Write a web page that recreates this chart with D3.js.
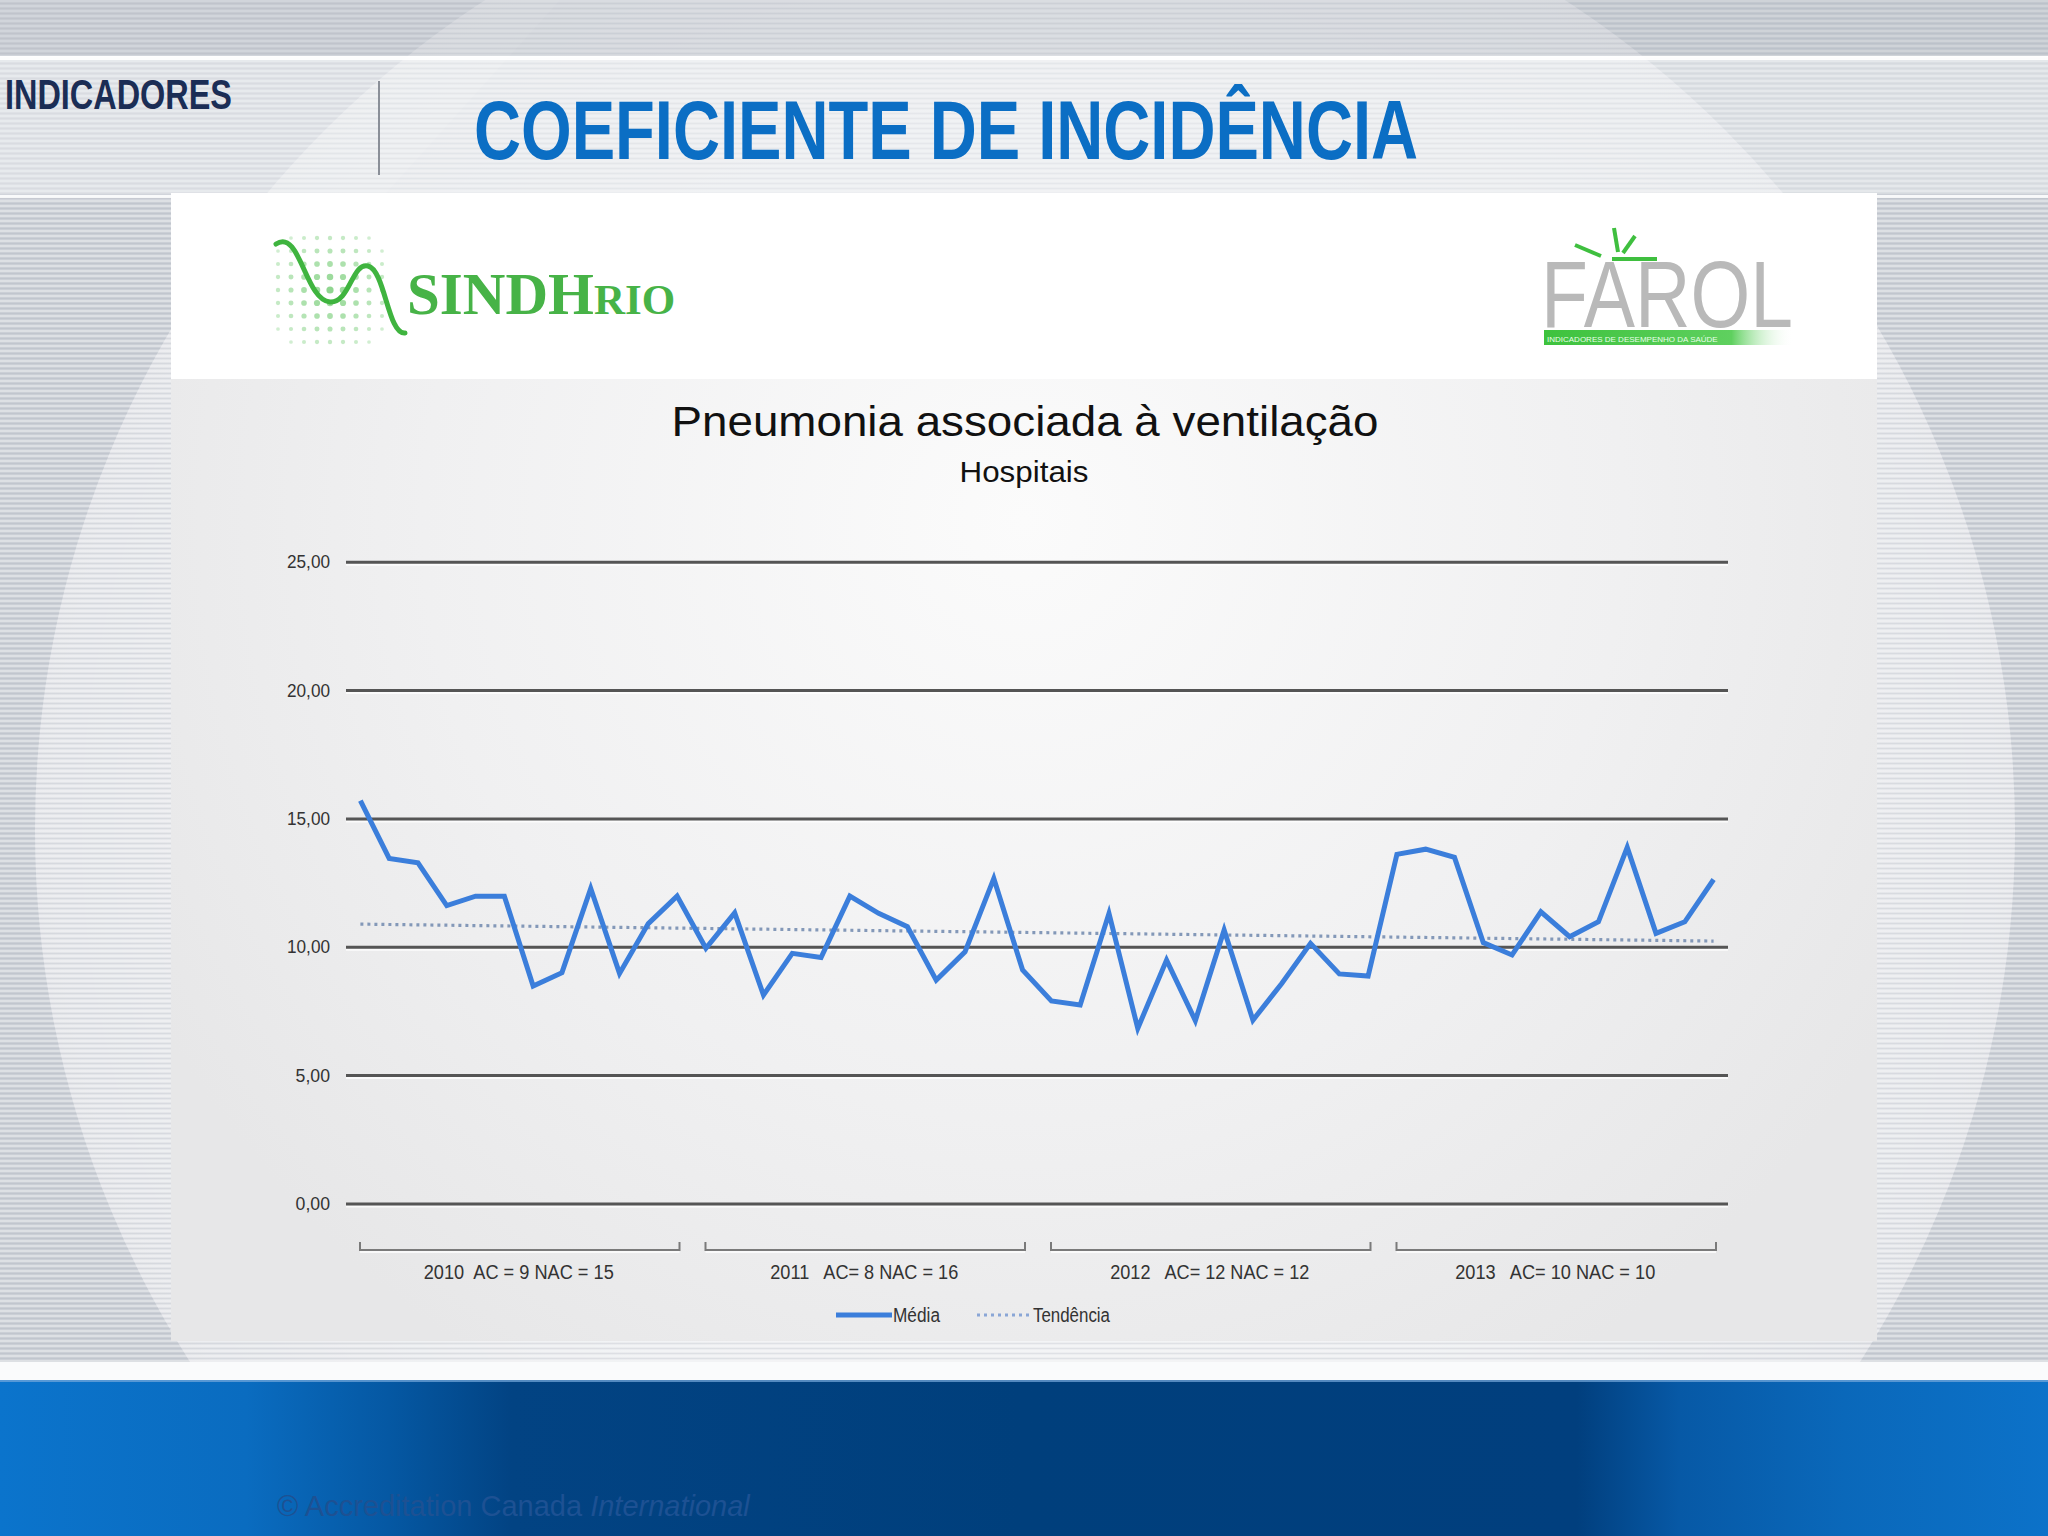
<!DOCTYPE html>
<html><head><meta charset="utf-8">
<script src="https://cdn.jsdelivr.net/npm/d3@7"></script>
<style>html,body{margin:0;padding:0;background:#d3d6dc;overflow:hidden} svg{display:block}</style>
</head><body>
<svg id="c" width="2048" height="1536"></svg>
<script>
// ---------------- DATA ----------------
const years = ["2010", "2011", "2012", "2013"];
const monthNames = ["jan", "fev", "mar", "abr", "mai", "jun", "jul", "ago", "set", "out", "nov", "dez"];
const groupLabels = ["2010  AC = 9 NAC = 15", "2011   AC= 8 NAC = 16", "2012   AC= 12 NAC = 12", "2013   AC= 10 NAC = 10"];
const media = [
  15.69, 13.44, 13.27, 11.60, 11.97, 11.97, 8.47, 8.99, 12.27, 8.96, 10.90, 11.97,
  9.94, 11.32, 8.12, 9.74, 9.58, 11.97, 11.30, 10.78, 8.70, 9.80, 12.66, 9.09,
  7.89, 7.73, 11.30, 6.82, 9.48, 7.12, 10.65, 7.14, 8.57, 10.13, 8.94, 8.86,
  13.60, 13.80, 13.48, 10.16, 9.68, 11.36, 10.39, 10.97, 13.87, 10.52, 10.97, 12.62
];
const trendEnds = [10.88, 10.22];
const yTicks = [0, 5, 10, 15, 20, 25];
const chartTitle = "Pneumonia associada à ventilação";
const chartSubtitle = "Hospitais";
const legendLabels = ["Média", "Tendência"];
const slideSection = "INDICADORES";
const slideTitle = "COEFICIENTE DE INCIDÊNCIA";

const categories = years.flatMap(y => monthNames.map(m => m + "/" + y));

// ---------------- SETUP ----------------
const svg = d3.select("#c");
const W = 2048, H = 1536;
const narrow = "'Liberation Sans Narrow', 'Arial Narrow', 'Liberation Sans', Arial, sans-serif";
const defs = svg.append("defs");

const stripes = defs.append("pattern").attr("id", "stripes").attr("patternUnits", "userSpaceOnUse")
  .attr("width", 8).attr("height", 5);
stripes.append("rect").attr("width", 8).attr("height", 2).attr("fill", "rgba(255,255,255,0.35)");
stripes.append("rect").attr("y", 3).attr("width", 8).attr("height", 1).attr("fill", "rgba(120,130,145,0.12)");

const rg = defs.append("radialGradient").attr("id", "glow").attr("cx", "50%").attr("cy", "50%").attr("r", "50%");
rg.append("stop").attr("offset", "0%").attr("stop-color", "#ffffff").attr("stop-opacity", 0.7);
rg.append("stop").attr("offset", "70%").attr("stop-color", "#ffffff").attr("stop-opacity", 0.3);
rg.append("stop").attr("offset", "100%").attr("stop-color", "#ffffff").attr("stop-opacity", 0.05);

const footG = defs.append("linearGradient").attr("id", "foot").attr("x1", "0").attr("x2", "1").attr("y1", "0").attr("y2", "0");
[[0, "#0b74cc"], [0.12, "#0a6cc0"], [0.19, "#0558a3"], [0.25, "#024383"], [0.5, "#003f7c"], [0.77, "#013f7e"], [0.82, "#0759a6"], [0.9, "#0a68ba"], [1, "#0c72c9"]]
  .forEach(([o, c]) => footG.append("stop").attr("offset", o).attr("stop-color", c));

const panelG = defs.append("radialGradient").attr("id", "panelg").attr("gradientUnits", "userSpaceOnUse")
  .attr("cx", 1024).attr("cy", 520).attr("r", 1000);
panelG.append("stop").attr("offset", "0%").attr("stop-color", "#fbfbfb");
panelG.append("stop").attr("offset", "60%").attr("stop-color", "#f0f0f1");
panelG.append("stop").attr("offset", "100%").attr("stop-color", "#e7e7e8");

const barG = defs.append("linearGradient").attr("id", "greenbar").attr("x1", "0").attr("x2", "1");
barG.append("stop").attr("offset", "0%").attr("stop-color", "#3dc23d");
barG.append("stop").attr("offset", "75%").attr("stop-color", "#5fd05f");
barG.append("stop").attr("offset", "100%").attr("stop-color", "#ffffff").attr("stop-opacity", 0);

// ---------------- BACKGROUND ----------------
svg.append("rect").attr("width", W).attr("height", H).attr("fill", "#cbcfd6");
svg.append("circle").attr("cx", 1025).attr("cy", 830).attr("r", 990).attr("fill", "#e1e3e7");
svg.append("circle").attr("cx", 1025).attr("cy", 830).attr("r", 990).attr("fill", "url(#glow)");
svg.append("polygon").attr("points", "0,0 560,0 380,200 0,200").attr("fill", "rgba(255,255,255,0.12)");
svg.append("rect").attr("width", W).attr("height", H).attr("fill", "url(#stripes)");
// top band
svg.append("rect").attr("y", 0).attr("width", W).attr("height", 56).attr("fill", "rgba(180,186,196,0.35)");
svg.append("rect").attr("y", 56).attr("width", W).attr("height", 4).attr("fill", "rgba(255,255,255,0.95)");
svg.append("rect").attr("y", 60).attr("width", W).attr("height", 134).attr("fill", "rgba(240,242,245,0.45)");
svg.append("rect").attr("y", 195).attr("width", W).attr("height", 3).attr("fill", "rgba(255,255,255,0.8)");
// bottom band
svg.append("rect").attr("y", 1362).attr("width", W).attr("height", 18).attr("fill", "#fafbfc");
svg.append("rect").attr("y", 1380).attr("width", W).attr("height", 156).attr("fill", "url(#foot)");
svg.append("rect").attr("y", 1380).attr("width", W).attr("height", 2).attr("fill", "rgba(120,170,220,0.7)");

// header texts
svg.append("text").attr("x", 5).attr("y", 109).text(slideSection)
  .attr("font-family", narrow).attr("font-weight", "bold").attr("font-size", 42)
  .attr("fill", "#1b2d55").attr("textLength", 227).attr("lengthAdjust", "spacingAndGlyphs");
svg.append("rect").attr("x", 378).attr("y", 81).attr("width", 2).attr("height", 94).attr("fill", "#8a8f98");
svg.append("text").attr("x", 474).attr("y", 159).text(slideTitle)
  .attr("font-family", narrow).attr("font-weight", "bold").attr("font-size", 84)
  .attr("fill", "#0b6ec4").attr("textLength", 944).attr("lengthAdjust", "spacingAndGlyphs");

// footer text
const cp = svg.append("text").attr("x", 277).attr("y", 1516).attr("font-family", narrow)
  .attr("font-size", 29).attr("fill", "#1d5193");
cp.append("tspan").text("© Accreditation Canada ");
cp.append("tspan").attr("font-style", "italic").text("International");

// ---------------- PANEL ----------------
svg.append("rect").attr("x", 171).attr("y", 193).attr("width", 1706).attr("height", 1148).attr("fill", "url(#panelg)");
svg.append("rect").attr("x", 171).attr("y", 193).attr("width", 1706).attr("height", 186).attr("fill", "#ffffff");

// SINDHRIO logo
const logo = svg.append("g");
for (let r = 0; r < 9; r++) {
  for (let c = 0; c < 9; c++) {
    const cx = 278 + c * 13, cy = 238 + r * 13;
    const d = Math.hypot(c - 4, r - 4);
    if (d > 5) continue;
    logo.append("circle").attr("cx", cx).attr("cy", cy).attr("r", 3.6 - d * 0.35)
      .attr("fill", "#7ccf7c").attr("opacity", 0.85 - d * 0.1);
  }
}
logo.append("path").attr("d", "M276,244 C300,228 305,300 330,302 C350,303 352,262 368,266 C385,270 388,335 405,333")
  .attr("fill", "none").attr("stroke", "#3fb43f").attr("stroke-width", 5).attr("stroke-linecap", "round");
const st = logo.append("text").attr("x", 407).attr("y", 314).attr("font-family", "'Liberation Serif', 'DejaVu Serif', serif")
  .attr("font-weight", "bold").attr("fill", "#47b347");
st.append("tspan").attr("font-size", 59).text("SINDH");
st.append("tspan").attr("font-size", 43).text("RIO");

// FAROL logo
const fl = svg.append("g");
fl.append("text").attr("x", 1541).attr("y", 327).text("FAROL").attr("font-family", "'Liberation Sans', Arial, sans-serif")
  .attr("font-size", 94).attr("fill", "#b9b9b9").attr("textLength", 252).attr("lengthAdjust", "spacingAndGlyphs");
fl.append("rect").attr("x", 1544).attr("y", 330).attr("width", 250).attr("height", 15).attr("fill", "url(#greenbar)");
fl.append("text").attr("x", 1547).attr("y", 342).text("INDICADORES DE DESEMPENHO DA SAÚDE")
  .attr("font-family", narrow).attr("font-size", 8).attr("fill", "#e8ffe8");
fl.append("line").attr("x1", 1614).attr("y1", 228).attr("x2", 1618).attr("y2", 252).attr("stroke", "#3fbf3f").attr("stroke-width", 4);
fl.append("line").attr("x1", 1635).attr("y1", 236).attr("x2", 1623).attr("y2", 253).attr("stroke", "#3fbf3f").attr("stroke-width", 4);
fl.append("line").attr("x1", 1575).attr("y1", 245).attr("x2", 1601).attr("y2", 256).attr("stroke", "#3fbf3f").attr("stroke-width", 4);
fl.append("line").attr("x1", 1612).attr("y1", 259).attr("x2", 1657).attr("y2", 259).attr("stroke", "#3fbf3f").attr("stroke-width", 4);

// ---------------- CHART ----------------
svg.append("text").attr("x", 1025).attr("y", 436).attr("text-anchor", "middle").text(chartTitle)
  .attr("font-family", "'Liberation Sans', Arial, sans-serif").attr("font-size", 42).attr("fill", "#111")
  .attr("textLength", 707).attr("lengthAdjust", "spacingAndGlyphs");
svg.append("text").attr("x", 1024).attr("y", 482).attr("text-anchor", "middle").text(chartSubtitle)
  .attr("font-family", "'Liberation Sans', Arial, sans-serif").attr("font-size", 29).attr("fill", "#111")
  .attr("textLength", 129).attr("lengthAdjust", "spacingAndGlyphs");

const x0 = 346, x1 = 1728;
const x = d3.scaleBand().domain(categories).range([x0, x1]);
const y = d3.scaleLinear().domain([0, 25]).range([1203.4, 561.7]);
const cx = d => x(d) + x.bandwidth() / 2;

// gridline highlights
svg.append("g").selectAll("line").data(yTicks).join("line")
  .attr("x1", x0).attr("x2", x1).attr("y1", d => y(d) + 3).attr("y2", d => y(d) + 3)
  .attr("stroke", "#ffffff").attr("stroke-width", 2).attr("opacity", 0.8);

const fmt = d => d3.format(".2f")(d).replace(".", ",");
const yAxis = d3.axisLeft(y).tickValues(yTicks).tickSize(-(x1 - x0)).tickPadding(16).tickFormat(fmt);
const ya = svg.append("g").attr("transform", `translate(${x0},0)`).call(yAxis);
ya.select(".domain").remove();
ya.selectAll(".tick line").attr("stroke", "#555555").attr("stroke-width", 3);
ya.selectAll(".tick text").attr("font-family", narrow).attr("font-size", 19).attr("fill", "#333")
  .attr("textLength", d => fmt(d).length * 8.6).attr("lengthAdjust", "spacingAndGlyphs");

// trend (dotted)
svg.append("line")
  .attr("x1", cx(categories[0])).attr("x2", cx(categories[categories.length - 1]))
  .attr("y1", y(trendEnds[0])).attr("y2", y(trendEnds[1]))
  .attr("stroke", "#8398b8").attr("stroke-width", 3.2).attr("stroke-dasharray", "3,4");

// media line
const line = d3.line().x((d, i) => cx(categories[i])).y(d => y(d));
svg.append("path").datum(media).attr("d", line).attr("fill", "none")
  .attr("stroke", "#3b7edb").attr("stroke-width", 5).attr("stroke-linejoin", "miter");

// group brackets
const gb = svg.append("g");
const labelWidths = [190, 188, 199, 200];
years.forEach((yr, g) => {
  const a = x(categories[g * 12]), b = x(categories[g * 12 + 11]) + x.bandwidth();
  const l = a + 14, r = b - 12, by = 1250;
  gb.append("path").attr("d", `M${l},${by - 8}V${by}H${r}V${by - 8}`).attr("fill", "none")
    .attr("stroke", "#7a7a7a").attr("stroke-width", 2);
  gb.append("path").attr("d", `M${l},${by + 2}H${r}`).attr("stroke", "#ffffff").attr("stroke-width", 1.5);
  gb.append("text").attr("x", (a + b) / 2).attr("y", 1279).attr("text-anchor", "middle")
    .text(groupLabels[g]).attr("font-family", narrow).attr("font-size", 20).attr("fill", "#333")
    .style("white-space", "pre")
    .attr("textLength", labelWidths[g]).attr("lengthAdjust", "spacingAndGlyphs");
});

// legend
const lg = svg.append("g");
lg.append("line").attr("x1", 836).attr("x2", 892).attr("y1", 1315).attr("y2", 1315)
  .attr("stroke", "#3b7edb").attr("stroke-width", 5);
lg.append("text").attr("x", 893).attr("y", 1322).text(legendLabels[0]).attr("font-family", narrow)
  .attr("font-size", 20).attr("fill", "#333").attr("textLength", 47).attr("lengthAdjust", "spacingAndGlyphs");
lg.append("line").attr("x1", 977).attr("x2", 1030).attr("y1", 1315).attr("y2", 1315)
  .attr("stroke", "#8aa6d6").attr("stroke-width", 3).attr("stroke-dasharray", "3,4");
lg.append("text").attr("x", 1033).attr("y", 1322).text(legendLabels[1]).attr("font-family", narrow)
  .attr("font-size", 20).attr("fill", "#333").attr("textLength", 77).attr("lengthAdjust", "spacingAndGlyphs");
</script>
</body></html>
